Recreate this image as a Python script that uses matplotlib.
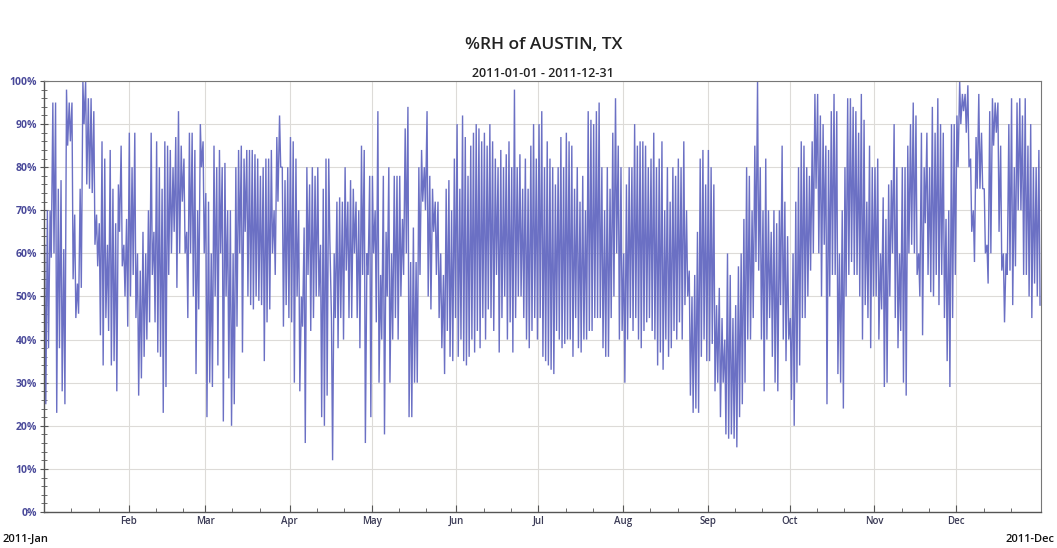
import numpy as np
import pandas as pd
import matplotlib
matplotlib.use("Agg")
import matplotlib.pyplot as plt
import matplotlib.dates as mdates
from matplotlib.ticker import MultipleLocator, PercentFormatter

# ---- Data: daily maximum / minimum relative humidity (%) ----
jan_hi = [62, 70, 70, 95, 95, 75, 77, 61, 98, 95, 95, 69, 53, 75, 100, 100, 96, 96, 93, 69,
          67, 86, 82, 62, 84, 75, 67, 76, 85, 62, 68]
jan_lo = [25, 38, 59, 60, 23, 38, 28, 25, 85, 86, 54, 45, 46, 52, 90, 76, 75, 74, 62, 57,
          41, 34, 45, 42, 34, 35, 28, 65, 57, 50, 43]
feb_hi = [88, 80, 88, 60, 56, 65, 60, 70, 88, 65, 86, 80, 75, 86, 85, 84, 80, 87, 93, 85,
          82, 65, 88, 88, 84, 70, 90, 86]
feb_lo = [50, 55, 45, 27, 31, 36, 40, 44, 55, 44, 37, 36, 23, 29, 55, 60, 65, 52, 60, 72,
          60, 45, 60, 50, 32, 47, 80, 60]
mar_hi = [74, 72, 60, 85, 80, 84, 80, 81, 70, 70, 60, 80, 84, 85, 82, 84, 84, 84, 83, 82,
          78, 80, 82, 82, 84, 70, 87, 92, 80, 77, 80]
mar_lo = [22, 30, 29, 50, 34, 60, 21, 50, 31, 20, 25, 43, 60, 37, 65, 50, 48, 47, 50, 49,
          48, 35, 44, 47, 60, 55, 72, 80, 43, 48, 45]
apr_hi = [87, 86, 82, 70, 50, 66, 80, 76, 80, 78, 80, 62, 75, 82, 82, 45, 60, 72, 73, 72,
          80, 72, 77, 75, 72, 70, 85, 84, 60, 78]
apr_lo = [44, 30, 50, 28, 43, 16, 55, 42, 45, 50, 50, 22, 20, 27, 63, 12, 45, 38, 45, 40,
          56, 45, 45, 60, 45, 38, 55, 16, 55, 22]
may_hi = [78, 70, 93, 55, 78, 65, 80, 60, 78, 78, 78, 68, 89, 94, 58, 66, 58, 80, 84, 80,
          93, 78, 75, 72, 72, 60, 55, 75, 77, 70, 82]
may_lo = [60, 44, 30, 40, 18, 50, 30, 40, 45, 40, 50, 55, 60, 22, 22, 30, 30, 55, 72, 70,
          50, 47, 65, 55, 45, 38, 32, 42, 36, 35, 45]
jun_hi = [90, 75, 92, 87, 78, 85, 88, 90, 89, 86, 88, 85, 90, 86, 82, 80, 84, 80, 83, 86,
          80, 98, 80, 83, 75, 82, 75, 85, 90, 82]
jun_lo = [36, 40, 35, 34, 36, 40, 37, 42, 38, 45, 40, 47, 45, 42, 55, 37, 45, 50, 40, 44,
          37, 45, 50, 50, 45, 40, 38, 42, 45, 40]
jul_hi = [90, 93, 80, 86, 82, 80, 76, 80, 87, 80, 88, 86, 85, 75, 80, 72, 78, 70, 93, 91,
          90, 93, 95, 80, 70, 80, 75, 88, 96, 85, 80]
jul_lo = [45, 36, 35, 34, 33, 32, 42, 40, 38, 39, 40, 40, 36, 45, 38, 37, 40, 40, 42, 42,
          45, 45, 45, 38, 36, 36, 45, 50, 60, 40, 42]
aug_hi = [60, 76, 80, 80, 90, 85, 86, 86, 85, 80, 82, 88, 80, 82, 86, 70, 80, 72, 80, 78,
          82, 80, 86, 70, 56, 50, 55, 65, 82, 84, 76]
aug_lo = [30, 40, 45, 42, 45, 40, 38, 42, 44, 45, 42, 40, 34, 37, 33, 40, 36, 38, 42, 40,
          44, 40, 48, 50, 27, 23, 24, 23, 36, 40, 35]
sep_hi = [84, 80, 76, 48, 52, 45, 40, 60, 55, 45, 48, 57, 60, 68, 80, 78, 70, 85, 100, 80,
          70, 82, 70, 65, 70, 67, 70, 85, 72, 64]
sep_lo = [35, 39, 28, 30, 22, 30, 18, 17, 18, 17, 15, 22, 25, 30, 40, 40, 45, 58, 56, 40,
          28, 40, 45, 36, 30, 28, 48, 40, 35, 40]
oct_hi = [45, 60, 72, 80, 86, 85, 80, 78, 86, 97, 97, 92, 90, 85, 84, 93, 97, 93, 60, 70,
          80, 96, 96, 94, 93, 88, 97, 91, 72, 85, 80]
oct_lo = [26, 20, 30, 34, 45, 45, 50, 56, 60, 75, 60, 50, 62, 25, 50, 55, 55, 32, 30, 24,
          50, 55, 58, 55, 55, 50, 40, 48, 45, 38, 50]
nov_hi = [80, 82, 60, 73, 68, 76, 77, 90, 80, 60, 80, 80, 85, 90, 95, 92, 60, 88, 80, 88,
          80, 94, 88, 96, 90, 88, 68, 70, 90, 90]
nov_lo = [50, 40, 47, 29, 30, 50, 60, 45, 38, 42, 30, 27, 60, 62, 60, 55, 50, 41, 67, 55,
          51, 50, 55, 48, 55, 45, 35, 29, 45, 55]
dec_hi = [92, 100, 97, 97, 99, 82, 70, 87, 97, 88, 75, 62, 93, 96, 95, 95, 85, 60, 60, 90,
          96, 80, 95, 96, 92, 96, 85, 90, 80, 80, 84]
dec_lo = [80, 90, 93, 88, 80, 65, 58, 75, 75, 75, 60, 53, 60, 85, 88, 65, 56, 44, 55, 56,
          48, 57, 70, 70, 55, 55, 50, 45, 53, 50, 48]

daily_hi = (jan_hi + feb_hi + mar_hi + apr_hi + may_hi + jun_hi + jul_hi + aug_hi
            + sep_hi + oct_hi + nov_hi + dec_hi)
daily_lo = (jan_lo + feb_lo + mar_lo + apr_lo + may_lo + jun_lo + jul_lo + aug_lo
            + sep_lo + oct_lo + nov_lo + dec_lo)

title = "%RH of AUSTIN, TX"
subtitle = "2011-01-01 - 2011-12-31"
start_date = "2011-01-01"

# ---- Build zigzag series: max near dawn, min mid-afternoon ----
days = pd.date_range(start_date, periods=len(daily_hi), freq="D")
t_hi = days + pd.Timedelta(hours=6)
t_lo = days + pd.Timedelta(hours=16)
times = np.empty(2 * len(days), dtype="datetime64[ns]")
vals = np.empty(2 * len(days))
times[0::2] = t_hi.values
times[1::2] = t_lo.values
vals[0::2] = daily_hi
vals[1::2] = daily_lo

# ---- Figure ----
plt.rcParams["font.family"] = ["Open Sans", "DejaVu Sans"]
fig = plt.figure(figsize=(10.57, 5.48), dpi=100)
ax = fig.add_axes([0.0416, 0.0657, 0.9432, 0.7865])

line_color = "#6b70c4"
label_color = "#4a4a9a"
ax.plot(times, vals, color=line_color, lw=1.0, solid_joinstyle="miter")

ax.set_xlim(pd.Timestamp("2011-01-01"), pd.Timestamp("2012-01-01"))
ax.set_ylim(0, 100)

ax.xaxis.set_major_locator(mdates.MonthLocator(bymonth=range(2, 13)))
ax.xaxis.set_major_formatter(mdates.DateFormatter("%b"))
ax.xaxis.set_minor_locator(mdates.DayLocator(bymonthday=[11, 21]))
ax.yaxis.set_major_locator(MultipleLocator(10))
ax.yaxis.set_minor_locator(MultipleLocator(2))
ax.yaxis.set_major_formatter(PercentFormatter(decimals=0))

ax.grid(True, which="major", color="#dddbd8", lw=0.8)
ax.set_axisbelow(True)

ax.tick_params(axis="x", which="major", direction="in", length=5, color="#555555",
               labelsize=7, labelcolor="#3a3a55", pad=3)
ax.tick_params(axis="x", which="minor", direction="in", length=3, color="#555555")
ax.tick_params(axis="y", which="major", direction="inout", length=6, color="#555555",
               labelsize=7.5, labelcolor=label_color, pad=2)
ax.tick_params(axis="y", which="minor", direction="inout", length=4, color="#555555",
               width=0.6)
for lab in ax.get_yticklabels():
    lab.set_fontweight("bold")
for lab in ax.get_xticklabels():
    lab.set_fontweight("semibold")

for side in ["top", "right"]:
    ax.spines[side].set_color("#777777")
    ax.spines[side].set_linewidth(0.8)
for side in ["left", "bottom"]:
    ax.spines[side].set_color("#555555")
    ax.spines[side].set_linewidth(1.0)

fig.text(0.514, 0.918, title, ha="center", va="center", fontsize=12.5,
         fontweight="semibold", color="#222222")
fig.text(0.514, 0.866, subtitle, ha="center", va="center", fontsize=9,
         fontweight="semibold", color="#222222")
fig.text(0.002, 0.016, "2011-Jan", ha="left", va="center", fontsize=8,
         fontweight="semibold", color="#111111")
fig.text(0.998, 0.016, "2011-Dec", ha="right", va="center", fontsize=8,
         fontweight="semibold", color="#111111")

fig.savefig("out.png", dpi=100, facecolor="white")
